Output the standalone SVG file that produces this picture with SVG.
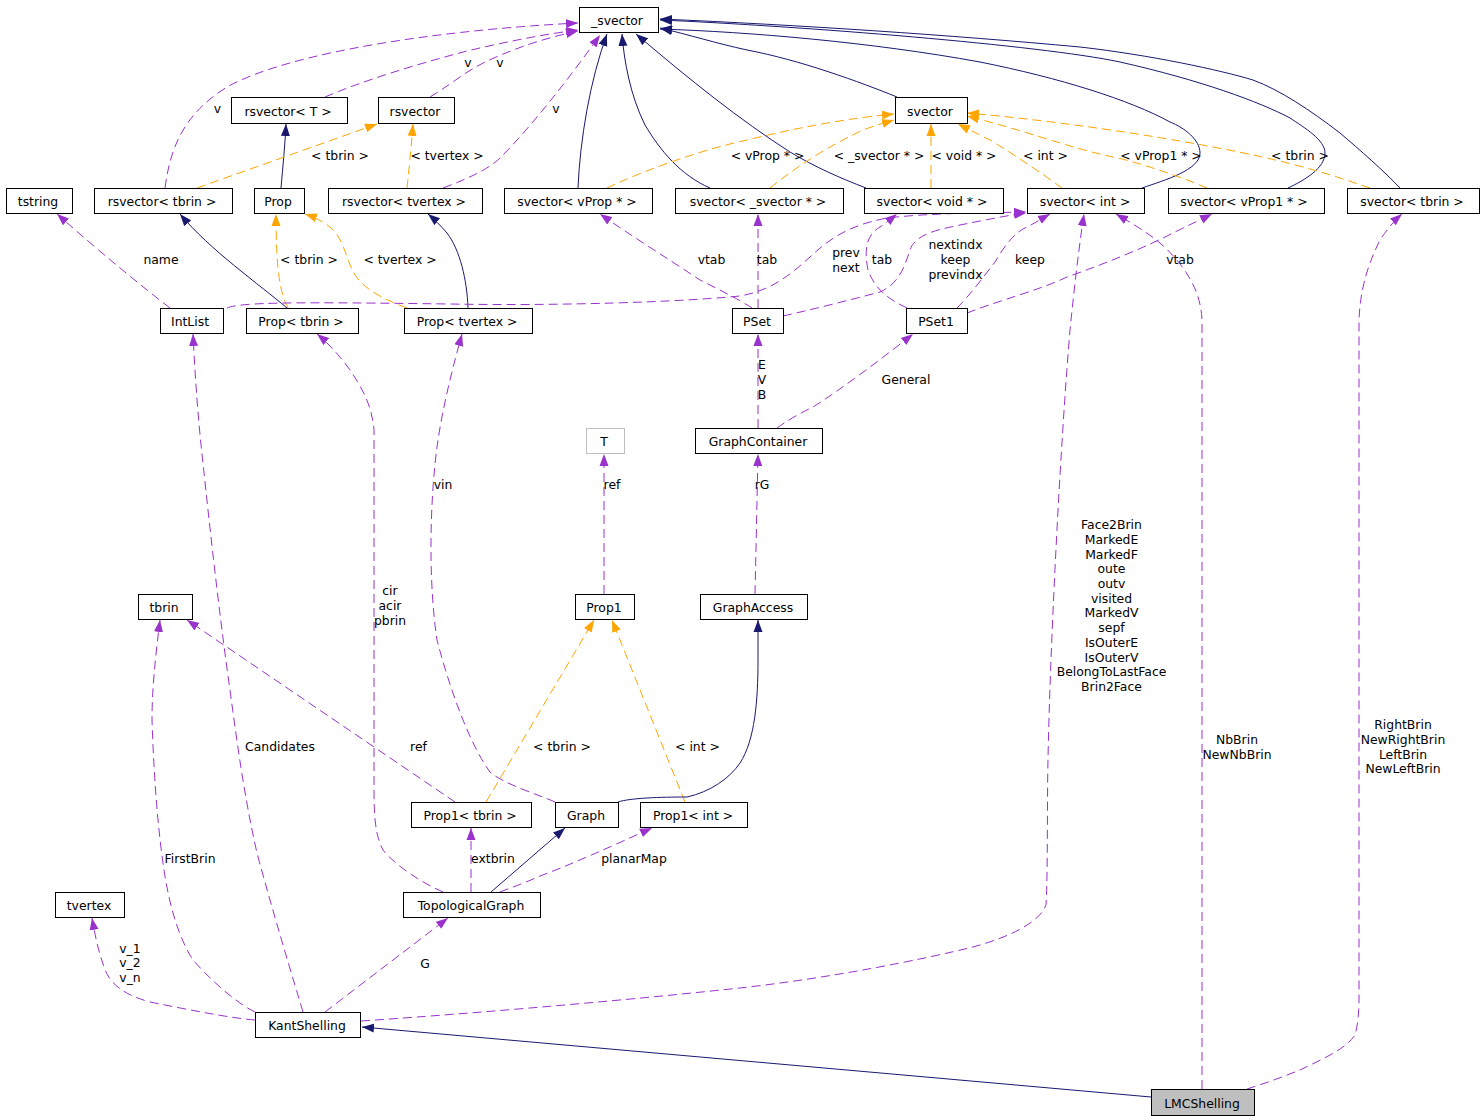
<svg xmlns="http://www.w3.org/2000/svg" width="1483" height="1120" viewBox="0 0 1483 1120">
<defs>
<style>
text{font-family:"DejaVu Sans","Bitstream Vera Sans",sans-serif;font-size:12.4px;fill:#000}
.node rect{fill:#fff;stroke:#000;stroke-width:1}
.node text{text-anchor:middle}
.lbl{text-anchor:middle}
.e{fill:none;stroke-width:1}
.inh{stroke:#191970;marker-end:url(#mInh)}
.use{stroke:#9a32cd;stroke-dasharray:9,5;marker-end:url(#mUse)}
.tpl{stroke:#ffa500;stroke-dasharray:9,5;marker-end:url(#mTpl)}
</style>
<marker id="mInh" markerUnits="userSpaceOnUse" markerWidth="12" markerHeight="10" viewBox="0 0 12 10" refX="12" refY="5" orient="auto"><path d="M0,0.5 L12,5 L0,9.5 z" fill="#191970"/></marker>
<marker id="mUse" markerUnits="userSpaceOnUse" markerWidth="12" markerHeight="10" viewBox="0 0 12 10" refX="12" refY="5" orient="auto"><path d="M0,0.5 L12,5 L0,9.5 z" fill="#9a32cd"/></marker>
<marker id="mTpl" markerUnits="userSpaceOnUse" markerWidth="12" markerHeight="10" viewBox="0 0 12 10" refX="12" refY="5" orient="auto"><path d="M0,0.5 L12,5 L0,9.5 z" fill="#ffa500"/></marker>
</defs>
<rect width="1483" height="1120" fill="#fff"/>
<g id="connectors">
<g><path class="e use" d="M165,188 C170,150 182,115 227,87 C290,52 440,30 578,23"/><text class="lbl" x="217.5" y="113">v</text></g>
<g><path class="e use" d="M325,97 C360,82 410,66 467,51 C505,42 545,34 578,30"/><text class="lbl" x="468" y="67">v</text></g>
<g><path class="e use" d="M430,97 C450,85 465,72 485,62 C515,48 545,38 578,31"/><text class="lbl" x="500" y="67">v</text></g>
<g><path class="e use" d="M443,188 C470,178 490,168 500,158 C530,128 568,80 600,35"/><text class="lbl" x="556" y="113">v</text></g>
<g><path class="e inh" d="M281,188 C283,165 285,145 286,124"/></g>
<g><path class="e tpl" d="M197,188 L377,124"/><text class="lbl" x="340" y="159.5">&lt; tbrin &gt;</text></g>
<g><path class="e tpl" d="M407,188 C409,170 411,150 413,124"/><text class="lbl" x="447" y="159.5">&lt; tvertex &gt;</text></g>
<g><path class="e inh" d="M578,188 C580,140 590,80 607,34"/></g>
<g><path class="e inh" d="M710,188 C680,175 660,150 645,125 C630,95 624,60 622,34"/></g>
<g><path class="e inh" d="M866,188 C840,178 815,167 790,152 C740,120 690,80 636,34"/></g>
<g><path class="e inh" d="M897,97 C860,82 800,60 747,50 C715,43 690,35 660,28"/></g>
<g><path class="e inh" d="M1142,188 C1165,180 1200,170 1200,153 C1200,140 1185,128 1170,122 C1130,100 1060,78 980,62 C870,42 750,32 660,29"/></g>
<g><path class="e inh" d="M1288,188 C1305,180 1325,168 1325,153 C1325,140 1305,128 1290,118 C1260,102 1200,80 1120,62 C1040,45 800,26 660,20"/></g>
<g><path class="e inh" d="M1400,188 C1385,172 1360,150 1340,133 C1310,110 1280,90 1253,80 C1220,70 1150,55 1080,47 C950,35 800,25 660,19"/></g>
<g><path class="e tpl" d="M607,188 C640,172 700,150 747,140 C800,127 850,118 894,114"/><text class="lbl" x="767.5" y="159.5">&lt; vProp * &gt;</text></g>
<g><path class="e tpl" d="M770,188 C790,172 820,150 863,130 C873,126 884,123 894,120"/><text class="lbl" x="879" y="159.5">&lt; _svector * &gt;</text></g>
<g><path class="e tpl" d="M931,188 L931,124"/><text class="lbl" x="964" y="159.5">&lt; void * &gt;</text></g>
<g><path class="e tpl" d="M1062,188 C1040,172 1010,152 990,140 C978,134 968,129 958,124"/><text class="lbl" x="1045.5" y="159.5">&lt; int &gt;</text></g>
<g><path class="e tpl" d="M1207,188 C1180,176 1130,160 1113,157 C1070,148 1030,132 967,116"/><text class="lbl" x="1161" y="159.5">&lt; vProp1 * &gt;</text></g>
<g><path class="e tpl" d="M1370,188 C1340,178 1300,163 1213,147 C1150,135 1050,120 967,113"/><text class="lbl" x="1300" y="159.5">&lt; tbrin &gt;</text></g>
<g><path class="e use" d="M170,308 C140,285 100,252 57,214"/><text class="lbl" x="161" y="264">name</text></g>
<g><path class="e inh" d="M287,308 C260,285 210,250 180,214"/></g>
<g><path class="e tpl" d="M288,308 C280,293 276,270 276,214"/><text class="lbl" x="309" y="264">&lt; tbrin &gt;</text></g>
<g><path class="e tpl" d="M407,308 C385,300 365,290 355,275 C345,258 345,240 330,227 C322,221 314,217 305,214"/><text class="lbl" x="400" y="264">&lt; tvertex &gt;</text></g>
<g><path class="e inh" d="M468,308 C467,280 460,250 447,233 C440,225 434,219 428,214"/></g>
<g><path class="e use" d="M227,308 C240,302 300,302 450,304 C560,306 680,302 740,296 C775,290 795,270 810,257 C830,238 850,225 887,218 C930,213 980,213 1026,212"/><text class="lbl" x="846"><tspan x="846" y="257">prev</tspan><tspan x="846" y="271.5">next</tspan></text></g>
<g><path class="e use" d="M752,308 C740,300 720,290 700,280 C670,260 630,235 600,214"/><text class="lbl" x="711.5" y="264">vtab</text></g>
<g><path class="e use" d="M758,308 L758,214"/><text class="lbl" x="767" y="264">tab</text></g>
<g><path class="e use" d="M783,316 C810,310 850,300 880,292 C900,283 905,265 910,250 C915,235 935,230 960,225 C990,219 1010,215 1026,213"/><text class="lbl"><tspan x="955.5" y="249">nextindx</tspan><tspan x="955.5" y="264">keep</tspan><tspan x="955.5" y="278.5">previndx</tspan></text></g>
<g><path class="e use" d="M907,308 C890,300 875,290 868,270 C864,250 866,235 880,227 C886,223 892,218 897,214"/><text class="lbl" x="882" y="264">tab</text></g>
<g><path class="e use" d="M957,308 C970,295 985,275 995,262 C1005,245 1015,232 1027,227 C1035,223 1043,218 1050,214"/><text class="lbl" x="1030" y="264">keep</text></g>
<g><path class="e use" d="M967,313 C1000,300 1040,290 1067,277 C1110,262 1150,245 1173,233 C1187,226 1200,220 1212,214"/><text class="lbl" x="1180" y="264">vtab</text></g>
<g><path class="e use" d="M758,428 L758,334"/><text class="lbl"><tspan x="762" y="369">E</tspan><tspan x="762" y="384">V</tspan><tspan x="762" y="398.5">B</tspan></text></g>
<g><path class="e use" d="M777,428 C785,422 800,413 813,407 C840,390 880,360 913,334"/><text class="lbl" x="906" y="384">General</text></g>
<g><path class="e use" d="M755,594 C756,550 757,500 758,454"/><text class="lbl" x="762" y="489">rG</text></g>
<g><path class="e use" d="M604,594 L604,454"/><text class="lbl" x="612" y="489">ref</text></g>
<g><path class="e tpl" d="M486,802 L594,620"/><text class="lbl" x="562" y="751">&lt; tbrin &gt;</text></g>
<g><path class="e tpl" d="M685,802 L612,620"/><text class="lbl" x="697.5" y="751">&lt; int &gt;</text></g>
<g><path class="e inh" d="M618,802 C630,798 660,797 687,797 C710,792 730,778 740,763 C755,740 758,700 758,660 L758,620"/></g>
<g><path class="e use" d="M455,802 L187,620"/><text class="lbl" x="418.5" y="751">ref</text></g>
<g><path class="e use" d="M555,802 C540,795 505,785 490,772 C470,745 450,690 437,640 C428,580 430,500 437,447 C442,410 452,370 462,334"/><text class="lbl" x="443" y="489">vin</text></g>
<g><path class="e use" d="M443,892 C420,882 395,865 383,850 C375,835 374,815 374,790 L374,430 C372,405 362,388 350,370 C340,356 328,343 317,334"/><text class="lbl"><tspan x="390" y="595">cir</tspan><tspan x="390" y="610">acir</tspan><tspan x="390" y="624.5">pbrin</tspan></text></g>
<g><path class="e use" d="M471,892 L471,828"/><text class="lbl" x="493" y="863">extbrin</text></g>
<g><path class="e inh" d="M491,892 L565,828"/></g>
<g><path class="e use" d="M500,892 C510,888 520,885 540,876 C570,865 610,847 652,828"/><text class="lbl" x="634" y="863">planarMap</text></g>
<g><path class="e use" d="M255,1020 C230,1018 190,1010 150,1002 C125,995 110,985 104,967 C98,950 95,935 92,918"/><text class="lbl"><tspan x="130" y="952.5">v_1</tspan><tspan x="130" y="967">v_2</tspan><tspan x="130" y="982">v_n</tspan></text></g>
<g><path class="e use" d="M255,1012 C240,1005 215,985 193,960 C180,940 170,910 164,870 C158,830 154,780 152,720 C152,690 155,660 160,620"/><text class="lbl" x="190" y="863">FirstBrin</text></g>
<g><path class="e use" d="M303,1012 C295,985 275,920 257,853 C245,800 238,750 230,690 C220,620 210,530 203,463 C198,420 195,375 193,334"/><text class="lbl" x="280" y="751">Candidates</text></g>
<g><path class="e use" d="M325,1012 L448,918"/><text class="lbl" x="425" y="968">G</text></g>
<g><path class="e use" d="M361,1021 C450,1015 600,1003 740,988 C830,978 920,960 973,947 C1010,937 1040,922 1046,905 C1048,870 1047,800 1048,760 C1050,650 1060,450 1070,330 C1075,280 1080,240 1084,214"/><text class="lbl"><tspan x="1111.5" y="529">Face2Brin</tspan><tspan x="1111.5" y="543.7">MarkedE</tspan><tspan x="1111.5" y="558.5">MarkedF</tspan><tspan x="1111.5" y="573.2">oute</tspan><tspan x="1111.5" y="587.9">outv</tspan><tspan x="1111.5" y="602.7">visited</tspan><tspan x="1111.5" y="617.4">MarkedV</tspan><tspan x="1111.5" y="632.1">sepf</tspan><tspan x="1111.5" y="646.8">IsOuterE</tspan><tspan x="1111.5" y="661.6">IsOuterV</tspan><tspan x="1111.5" y="676.3">BelongToLastFace</tspan><tspan x="1111.5" y="691">Brin2Face</tspan></text></g>
<g><path class="e inh" d="M1151,1097 L362,1027"/></g>
<g><path class="e use" d="M1202,1089 L1202,320 C1201,295 1190,275 1175,258 C1160,240 1140,228 1116,214"/><text class="lbl"><tspan x="1237" y="744">NbBrin</tspan><tspan x="1237" y="759">NewNbBrin</tspan></text></g>
<g><path class="e use" d="M1247,1089 C1260,1085 1280,1078 1300,1070 C1320,1060 1345,1050 1355,1035 C1358,1025 1359,1010 1359,1000 L1359,320 C1360,295 1365,270 1380,240 C1388,228 1395,220 1402,214"/><text class="lbl"><tspan x="1403" y="729">RightBrin</tspan><tspan x="1403" y="744">NewRightBrin</tspan><tspan x="1403" y="758.5">LeftBrin</tspan><tspan x="1403" y="773">NewLeftBrin</tspan></text></g>
</g>
<g id="n_svector" class="node"><rect x="579.5" y="7.5" width="79" height="25"/><text x="617" y="25">_svector</text></g>
<g id="n_rsvectorT" class="node"><rect x="231.5" y="97.5" width="116" height="26"/><text x="288" y="115.5">rsvector&lt; T &gt;</text></g>
<g id="n_rsvector" class="node"><rect x="378.5" y="97.5" width="76" height="26"/><text x="415" y="115.5">rsvector</text></g>
<g id="n_svector2" class="node"><rect x="895.5" y="97.5" width="72" height="26"/><text x="930" y="115.5">svector</text></g>
<g id="n_tstring" class="node"><rect x="6.5" y="188.5" width="66" height="25"/><text x="38" y="206">tstring</text></g>
<g id="n_rsvector_tbrin" class="node"><rect x="94.5" y="188.5" width="138" height="25"/><text x="162" y="206">rsvector&lt; tbrin &gt;</text></g>
<g id="n_Prop" class="node"><rect x="254.5" y="188.5" width="50" height="25"/><text x="278" y="206">Prop</text></g>
<g id="n_rsvector_tvertex" class="node"><rect x="328.5" y="188.5" width="154" height="25"/><text x="404" y="206">rsvector&lt; tvertex &gt;</text></g>
<g id="n_svector_vProp" class="node"><rect x="504.5" y="188.5" width="148" height="25"/><text x="577" y="206">svector&lt; vProp * &gt;</text></g>
<g id="n_svector_svector" class="node"><rect x="675.5" y="188.5" width="168" height="25"/><text x="758" y="206">svector&lt; _svector * &gt;</text></g>
<g id="n_svector_void" class="node"><rect x="864.5" y="188.5" width="139" height="25"/><text x="932" y="206">svector&lt; void * &gt;</text></g>
<g id="n_svector_int" class="node"><rect x="1027.5" y="188.5" width="117" height="25"/><text x="1085" y="206">svector&lt; int &gt;</text></g>
<g id="n_svector_vProp1" class="node"><rect x="1168.5" y="188.5" width="156" height="25"/><text x="1244" y="206">svector&lt; vProp1 * &gt;</text></g>
<g id="n_svector_tbrin" class="node"><rect x="1347.5" y="188.5" width="132" height="25"/><text x="1412" y="206">svector&lt; tbrin &gt;</text></g>
<g id="n_IntList" class="node"><rect x="160.5" y="308.5" width="63" height="25"/><text x="190" y="326">IntList</text></g>
<g id="n_Prop_tbrin" class="node"><rect x="246.5" y="308.5" width="112" height="25"/><text x="301" y="326">Prop&lt; tbrin &gt;</text></g>
<g id="n_Prop_tvertex" class="node"><rect x="404.5" y="308.5" width="128" height="25"/><text x="467" y="326">Prop&lt; tvertex &gt;</text></g>
<g id="n_PSet" class="node"><rect x="732.5" y="308.5" width="51" height="25"/><text x="757" y="326">PSet</text></g>
<g id="n_PSet1" class="node"><rect x="906.5" y="308.5" width="61" height="25"/><text x="936" y="326">PSet1</text></g>
<g id="n_T" class="node"><rect x="586.5" y="428.5" width="38" height="25" style="stroke:#bfbfbf"/><text x="604" y="446">T</text></g>
<g id="n_GraphContainer" class="node"><rect x="695.5" y="428.5" width="127" height="25"/><text x="758" y="446">GraphContainer</text></g>
<g id="n_tbrin" class="node"><rect x="138.5" y="594.5" width="54" height="25"/><text x="164" y="612">tbrin</text></g>
<g id="n_Prop1" class="node"><rect x="575.5" y="594.5" width="59" height="25"/><text x="604" y="612">Prop1</text></g>
<g id="n_GraphAccess" class="node"><rect x="700.5" y="594.5" width="107" height="25"/><text x="753" y="612">GraphAccess</text></g>
<g id="n_Prop1_tbrin" class="node"><rect x="411.5" y="802.5" width="120" height="25"/><text x="470" y="820">Prop1&lt; tbrin &gt;</text></g>
<g id="n_Graph" class="node"><rect x="555.5" y="802.5" width="63" height="25"/><text x="586" y="820">Graph</text></g>
<g id="n_Prop1_int" class="node"><rect x="640.5" y="802.5" width="107" height="25"/><text x="693" y="820">Prop1&lt; int &gt;</text></g>
<g id="n_tvertex" class="node"><rect x="55.5" y="892.5" width="69" height="25"/><text x="89" y="910">tvertex</text></g>
<g id="n_TopologicalGraph" class="node"><rect x="403.5" y="892.5" width="137" height="25"/><text x="471" y="910">TopologicalGraph</text></g>
<g id="n_KantShelling" class="node"><rect x="255.5" y="1012.5" width="105" height="25"/><text x="307" y="1030">KantShelling</text></g>
<g id="n_LMCShelling" class="node"><rect x="1151.5" y="1089.5" width="103" height="26" style="fill:#bfbfbf"/><text x="1202" y="1108">LMCShelling</text></g>
</svg>
